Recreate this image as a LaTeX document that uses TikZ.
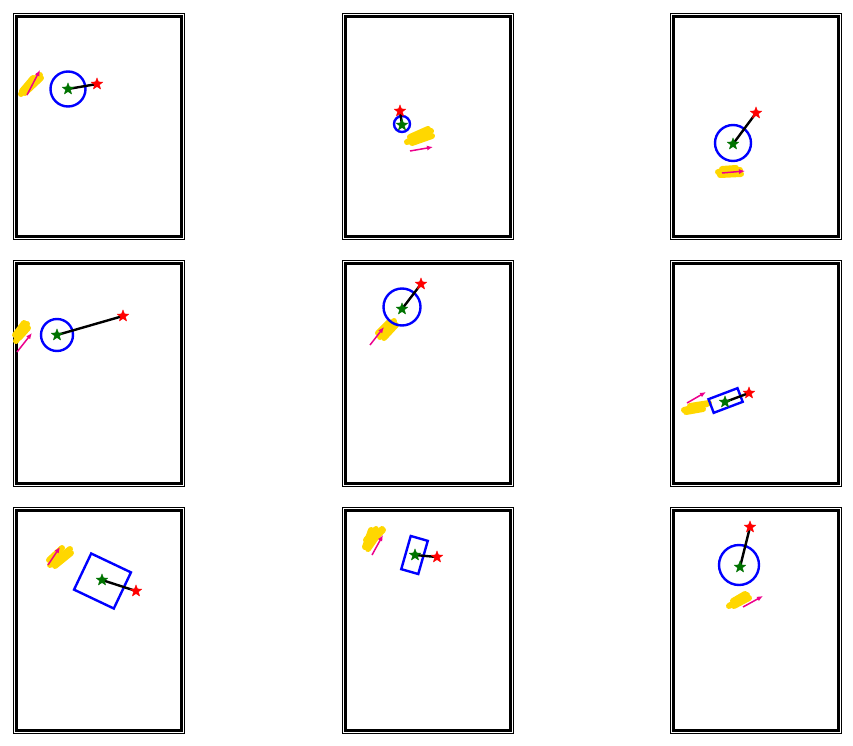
\documentclass[tikz,border=0pt]{standalone}
\usetikzlibrary{arrows.meta,shapes.geometric}
\definecolor{smeargold}{RGB}{255,215,0}
\definecolor{startgreen}{RGB}{0,115,0}
\pgfdeclarelayer{front}
\pgfsetlayers{main,front}

\begin{document}
\begin{tikzpicture}[x=1pt, y=-1pt,
  frameout/.style={line width=0.9pt},
  framein/.style={line width=3pt},
  zone/.style={draw=blue, line width=2.4pt, inner sep=0pt},
  startstar/.style={star, star points=5, star point ratio=2.3, inner sep=0pt, minimum size=12pt, draw=startgreen, fill=startgreen},
  goalstar/.style={startstar, draw=red, fill=red},
  link/.style={line width=2.4pt},
  smear/.style={smeargold, line width=6pt, line cap=round},
  flow/.style={magenta, line width=1.5pt, -{Latex[length=6pt,width=5pt]}}
]
\useasboundingbox (0,0) rectangle (853,746);

%========== FRAMES ==========
\foreach \cx in {0,329,657}
  \foreach \cy in {0,247,494} {
    \draw[frameout] (13+\cx,13+\cy) rectangle ++(171,226);
    \draw[framein] (16.5+\cx,16.5+\cy) rectangle ++(165,219.5);
  }

%========== ROW 1 ==========
% panel 1
\draw[smear] (21,94) -- (37,77);
\draw[smear] (25,93) -- (41,78);
\draw[smear] (30,87) -- (40,75);
\draw[smear] (22,91) -- (33,78);
\coordinate (f1a) at (27,95); \coordinate (f1b) at (40,70);
\draw[flow] (f1a) -- (f1b);
\node[zone, circle, minimum size=35pt] (z1) at (68,89) {};
\begin{pgfonlayer}{front}
  \node[startstar] (s1) at (68,89) {};
  \node[goalstar] (g1) at (97,84) {};
\end{pgfonlayer}
\draw[link] (s1.center) -- (g1.center);

% panel 2
\draw[smear] (407,142) -- (431,131);
\draw[smear] (412,143) -- (432,136);
\draw[smear] (410,137) -- (428,129);
\coordinate (f2a) at (410,151); \coordinate (f2b) at (433,147);
\draw[flow] (f2a) -- (f2b);
\node[zone, circle, minimum size=16pt] (z2) at (402,124) {};
\begin{pgfonlayer}{front}
  \node[startstar] (s2) at (402,125) {};
  \node[goalstar] (g2) at (400,111) {};
\end{pgfonlayer}
\draw[link] (s2.center) -- (g2.center);

% panel 3
\draw[smear] (718,172) -- (740,170);
\draw[smear] (720,175) -- (741,174);
\draw[smear] (722,169) -- (736,168);
\coordinate (f3a) at (722,173); \coordinate (f3b) at (745,171);
\draw[flow] (f3a) -- (f3b);
\node[zone, circle, minimum size=36pt] (z3) at (733,143) {};
\begin{pgfonlayer}{front}
  \node[startstar] (s3) at (733,144) {};
  \node[goalstar] (g3) at (756,113) {};
\end{pgfonlayer}
\draw[link] (s3.center) -- (g3.center);

%========== ROW 2 ==========
% panel 4
\draw[smear] (16,341) -- (27,324);
\draw[smear] (19,338) -- (28,328);
\draw[smear] (15,335) -- (24,323);
\coordinate (f4a) at (17,352); \coordinate (f4b) at (32,333);
\draw[flow] (f4a) -- (f4b);
\node[zone, circle, minimum size=32pt] (z4) at (57,335) {};
\begin{pgfonlayer}{front}
  \node[startstar] (s4) at (57,335) {};
  \node[goalstar] (g4) at (123,316) {};
\end{pgfonlayer}
\draw[link] (s4.center) -- (g4.center);

% panel 5
\draw[smear] (380,337) -- (394,321);
\draw[smear] (384,338) -- (396,325);
\draw[smear] (378,333) -- (389,322);
\coordinate (f5a) at (370,345); \coordinate (f5b) at (384,327);
\draw[flow] (f5a) -- (f5b);
\node[zone, circle, minimum size=37pt] (z5) at (402,307) {};
\begin{pgfonlayer}{front}
  \node[startstar] (s5) at (402,309) {};
  \node[goalstar] (g5) at (421,284) {};
\end{pgfonlayer}
\draw[link] (s5.center) -- (g5.center);

% panel 6
\draw[smear] (684,410) -- (707,404);
\draw[smear] (686,412) -- (703,409);
\draw[smear] (690,406) -- (709,403);
\coordinate (f6a) at (687,403); \coordinate (f6b) at (706,392);
\draw[flow] (f6a) -- (f6b);
\node[zone, rectangle, minimum width=31pt, minimum height=14.6pt, rotate=20.8] (z6) at (725.6,400.5) {};
\begin{pgfonlayer}{front}
  \node[startstar] (s6) at (725,402) {};
  \node[goalstar] (g6) at (749,393) {};
\end{pgfonlayer}
\draw[link] (s6.center) -- (g6.center);

%========== ROW 3 ==========
% panel 7
\draw[smear] (50,565) -- (70,549);
\draw[smear] (55,566) -- (71,553);
\draw[smear] (49,560) -- (62,548);
\draw[smear] (58,560) -- (68,551);
\coordinate (f7a) at (48,565); \coordinate (f7b) at (60,547);
\draw[flow] (f7a) -- (f7b);
\node[zone, rectangle, minimum width=44pt, minimum height=40pt, rotate=-25.4] (z7) at (102.5,581) {};
\begin{pgfonlayer}{front}
  \node[startstar] (s7) at (102,580) {};
  \node[goalstar] (g7) at (136,591) {};
\end{pgfonlayer}
\draw[link] (s7.center) -- (g7.center);

% panel 8
\draw[smear] (365,547) -- (371,530);
\draw[smear] (368,549) -- (382,529);
\draw[smear] (373,540) -- (383,530);
\draw[smear] (366,540) -- (376,529);
\coordinate (f8a) at (372,555); \coordinate (f8b) at (383,535);
\draw[flow] (f8a) -- (f8b);
\node[zone, rectangle, minimum width=17.7pt, minimum height=34.5pt, rotate=-16] (z8) at (414.5,555) {};
\begin{pgfonlayer}{front}
  \node[startstar] (s8) at (415,555) {};
  \node[goalstar] (g8) at (437,557) {};
\end{pgfonlayer}
\draw[link] (s8.center) -- (g8.center);

% panel 9
\draw[smear] (729,606) -- (747,595);
\draw[smear] (734,606) -- (749,598);
\draw[smear] (733,601) -- (745,594);
\coordinate (f9a) at (743,607); \coordinate (f9b) at (763,596);
\draw[flow] (f9a) -- (f9b);
\node[zone, circle, minimum size=40pt] (z9) at (739,565) {};
\begin{pgfonlayer}{front}
  \node[startstar] (s9) at (740,567) {};
  \node[goalstar] (g9) at (750,527) {};
\end{pgfonlayer}
\draw[link] (s9.center) -- (g9.center);

\end{tikzpicture}
\end{document}
